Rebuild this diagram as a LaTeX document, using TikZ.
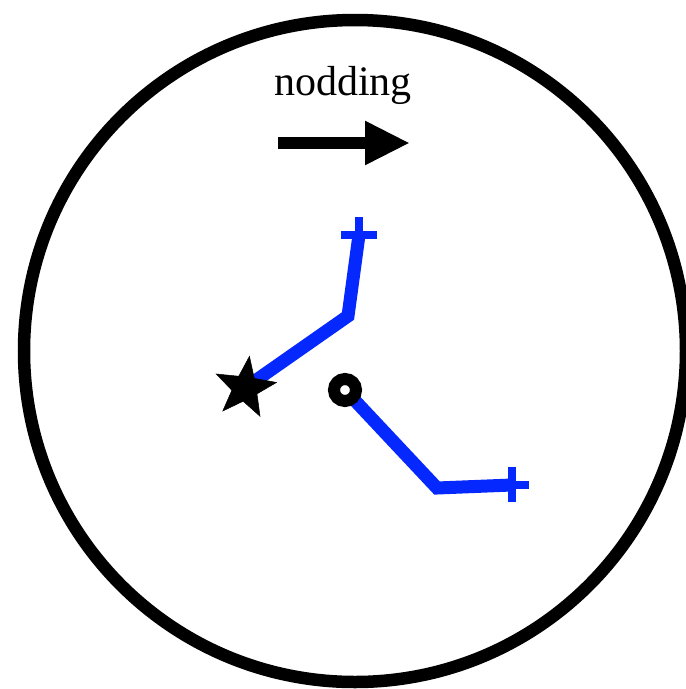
\documentclass[tikz,border=0pt]{standalone}
\usepackage{fontspec}
\setmainfont{Liberation Serif}
\usetikzlibrary{shapes.geometric, arrows.meta}
\definecolor{pathblue}{RGB}{5,40,255}
\tikzset{
  bluepath/.style={draw=pathblue, line width=13pt, line join=miter, line cap=butt},
  crossbar/.style={draw=pathblue, line width=8pt, line cap=butt},
  ring/.style={circle, draw=black, fill=white, line width=12pt, minimum size=22pt, inner sep=0pt},
  starmark/.style={star, star points=5, star point ratio=2.4, fill=black, draw=black, line width=0.5pt, minimum size=64pt, inner sep=0pt, rotate=-8},
}
\begin{document}
\begin{tikzpicture}[x=1pt,y=-1pt]
\useasboundingbox (0,0) rectangle (686,689);
\draw[line width=12.5pt] (355,351) circle [radius=331pt];
% label and arrow
\node (label) at (343,85) {\fontsize{42}{42}\selectfont nodding};
\coordinate (arrowstart) at (278,143);
\coordinate (arrowend) at (410,143);
\draw[line width=12pt, -{Triangle[length=45pt,width=41pt]}] (arrowstart) -- (arrowend);
% first path
\coordinate (starc) at (245,388);
\coordinate (bendA) at (348,316);
\coordinate (tipA) at (359,235);
\draw[bluepath] (starc) -- (bendA) -- (tipA);
\draw[crossbar] ([xshift=-18pt]tipA) -- ([xshift=18pt]tipA);
\draw[crossbar] (tipA) -- ([yshift=18pt]tipA);
\node[starmark] (starnode) at (starc) {};
% second path
\coordinate (dotc) at (345,390);
\coordinate (bendB) at (437,488);
\coordinate (tipB) at (512,485);
\draw[bluepath] (dotc) -- (bendB) -- (tipB);
\draw[crossbar] ([yshift=18pt]tipB) -- ([yshift=-17pt]tipB);
\draw[crossbar] (tipB) -- ([xshift=17pt]tipB);
\node[ring] (dotnode) at (dotc) {};
\end{tikzpicture}
\end{document}
